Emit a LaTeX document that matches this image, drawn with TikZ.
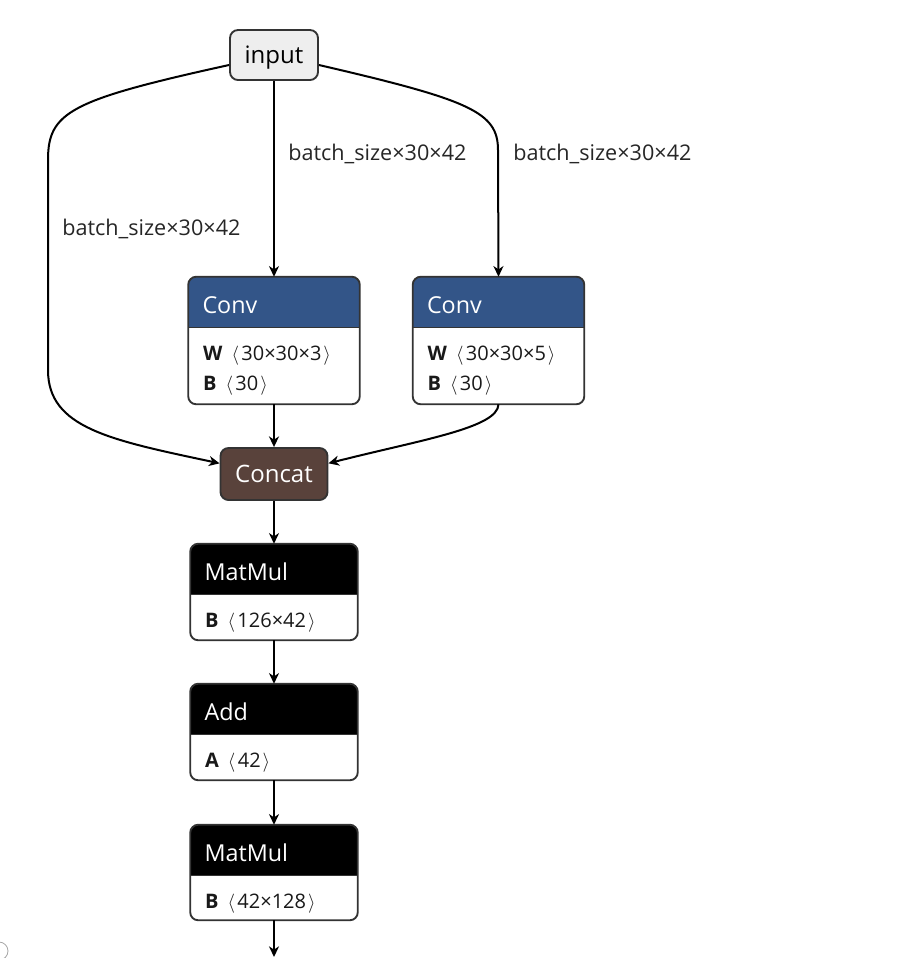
\documentclass[tikz,border=0pt]{standalone}
\usepackage{fontspec}
\setmainfont{Open Sans}
\usetikzlibrary{arrows.meta}
\definecolor{convblue}{HTML}{335588}
\definecolor{concatbrown}{HTML}{59423B}
\definecolor{inputfill}{HTML}{EEEEEE}
\definecolor{bordergray}{HTML}{333333}
\newcommand\opbox[6]{%
  \node[inner sep=0, minimum width=#3*0.75pt, minimum height=#4*0.75pt] (#1) at #2 {};
  \begin{scope}
    \clip[rounded corners=6pt] (#1.north west) rectangle (#1.south east);
    \fill[white] (#1.north west) rectangle (#1.south east);
    \fill[#5] (#1.north west) rectangle ([yshift=-38.25pt]#1.north east);
  \end{scope}
  \draw[boxborder, rounded corners=6pt] (#1.north west) rectangle (#1.south east);
  \draw[line width=0.8pt, bordergray] ([yshift=-38.25pt]#1.north west) -- ([yshift=-38.25pt]#1.north east);
  \node[titletext] at ([xshift=10.5pt,yshift=-21pt]#1.north west) {#6};
}
\newcommand\attrline[2]{\textbf{#1}\hspace{0.45em}$\langle$\hspace{0.12em}#2\hspace{0.1em}$\rangle$}
\begin{document}
\begin{tikzpicture}[x=0.75pt,y=-0.75pt,
  edge/.style={line width=1.5pt, -{Stealth[length=8pt,width=7.5pt,inset=2.5pt]}},
  boxborder/.style={line width=1.4pt, draw=bordergray},
  lbl/.style={font=\fontsize{16.2}{19}\selectfont, text=black!85, anchor=west, inner sep=0},
  titletext/.style={font=\fontsize{17.5}{20}\selectfont, text=white, anchor=west, inner sep=0},
  bodytext/.style={font=\fontsize{15}{18}\selectfont, text=black!90, anchor=west, inner sep=0},
  smallnode/.style={boxborder, rounded corners=6pt, inner sep=0, text depth=0pt, font=\fontsize{18}{21}\selectfont}
]
\useasboundingbox (0,0) rectangle (902,958);

% input
\node[smallnode, fill=inputfill, minimum width=88*0.75pt, minimum height=50*0.75pt] (input) at (274,55) {input};

% conv boxes
\opbox{conv1}{(274,340.5)}{171}{127}{convblue}{Conv}
\node[bodytext] at ([xshift=11pt,yshift=-59pt]conv1.north west) {\attrline{W}{30×30×3}};
\node[bodytext] at ([xshift=11pt,yshift=-81.5pt]conv1.north west) {\attrline{B}{30}};

\opbox{conv2}{(498.5,340.5)}{171}{127}{convblue}{Conv}
\node[bodytext] at ([xshift=11pt,yshift=-59pt]conv2.north west) {\attrline{W}{30×30×5}};
\node[bodytext] at ([xshift=11pt,yshift=-81.5pt]conv2.north west) {\attrline{B}{30}};

% concat
\node[smallnode, fill=concatbrown, text=white, minimum width=107*0.75pt, minimum height=52*0.75pt] (concat) at (274,474) {Concat};

% matmul / add
\opbox{mm1}{(274,592)}{167}{96}{black}{MatMul}
\node[bodytext] at ([xshift=11pt,yshift=-59pt]mm1.north west) {\attrline{B}{126×42}};

\opbox{add}{(274,732)}{167}{96}{black}{Add}
\node[bodytext] at ([xshift=11pt,yshift=-59pt]add.north west) {\attrline{A}{42}};

\opbox{mm2}{(274,872.5)}{167}{95}{black}{MatMul}
\node[bodytext] at ([xshift=11pt,yshift=-59pt]mm2.north west) {\attrline{B}{42×128}};

\coordinate (out) at (274,957);

% edges
\draw[edge] (input.south) -- (conv1.north);
\draw[edge] ([yshift=-7.5pt]input.east) .. controls (470,100) and (498,112) .. (498,150) -- (conv2.north);
\draw[edge] ([yshift=-7.5pt]input.west) .. controls (70,100) and (48,112) .. (48,160) -- (48,370) .. controls (48,428) and (110,440) .. ([yshift=8pt]concat.west);
\draw[edge] (conv1.south) -- (concat.north);
\draw[edge] (conv2.south) .. controls (498,428) and (420,440) .. ([yshift=8pt]concat.east);
\draw[edge] (concat.south) -- (mm1.north);
\draw[edge] (mm1.south) -- (add.north);
\draw[edge] (add.south) -- (mm2.north);
\draw[edge] (mm2.south) -- (out);

% edge labels
\node[lbl] at (288,154) {batch\_size×30×42};
\node[lbl] at (513,154) {batch\_size×30×42};
\node[lbl] at (62,229) {batch\_size×30×42};

% partial circle at bottom left
\draw[gray!70, line width=0.6pt] (-1,951) circle (9);
\end{tikzpicture}
\end{document}
